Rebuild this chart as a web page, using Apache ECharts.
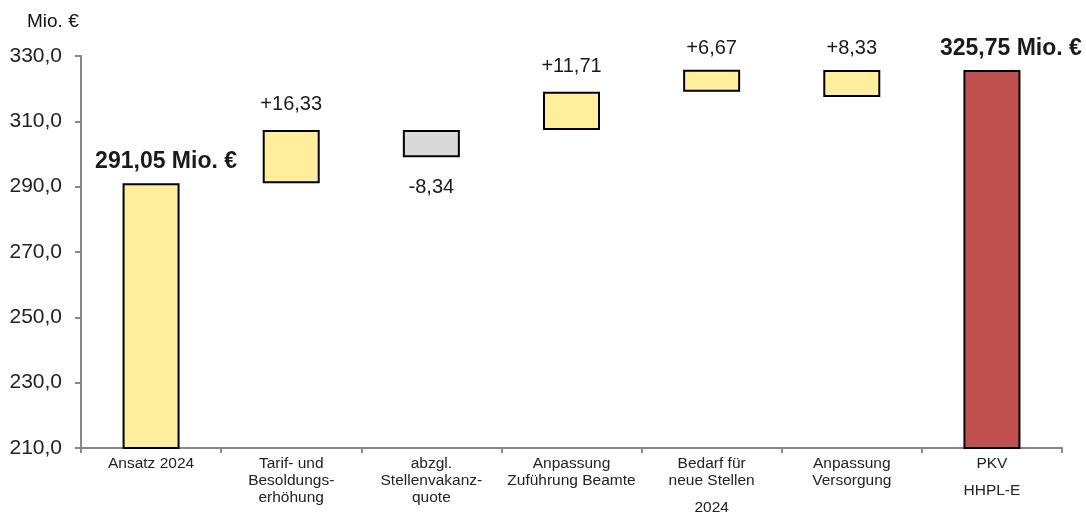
<!DOCTYPE html>
<html>
<head>
<meta charset="utf-8">
<script src="https://cdn.jsdelivr.net/npm/echarts@6/dist/echarts.min.js"></script>
<style>
  html, body { margin: 0; padding: 0; background: #fff; }
  #chart { width: 1086px; height: 517px; }
</style>
</head>
<body>
<div id="chart"></div>
<script>
// Personalkosten: Überleitung vom Ansatz 2024 zum HHPL-Entwurf (Mio. €)
const categories = [
  'Ansatz 2024',
  'Tarif- und\nBesoldungs-\nerhöhung',
  'abzgl.\nStellenvakanz-\nquote',
  'Anpassung\nZuführung Beamte',
  'Bedarf für\nneue Stellen',
  'Anpassung\nVersorgung',
  'PKV'
];
// second line set apart below a category label
const categoryNotes = ['', '', '', '', '2024', '', 'HHPL-E'];

const startTotal = 291.05;
const endTotal = 325.75;
// change steps and the level each step bar starts from
const deltas = [16.33, -8.34, 11.71, 6.67, 8.33];
const deltaStart = [291.05, 307.38, 307.38, 319.09, 317.42];

const yTicks = [210, 230, 250, 270, 290, 310, 330];

const fmt = v => v.toFixed(2).replace('.', ',');
const FONT = 'Liberation Sans, Arial, sans-serif';

// invisible base + visible part of every column
const baseData = [0];
const barData = [{ value: startTotal, kind: 'total' }];
deltas.forEach((d, i) => {
  const lo = Math.min(deltaStart[i], deltaStart[i] + d);
  baseData.push(lo);
  barData.push({ value: Math.abs(d), delta: d, kind: d < 0 ? 'neg' : 'pos' });
});
baseData.push(0);
barData.push({ value: endTotal, kind: 'total' });

const colors = { pos: '#FFEE9C', neg: '#D9D9D9', total1: '#C0504D' };

const seriesData = barData.map((d, i) => {
  let color = colors.pos;
  if (d.kind === 'neg') color = colors.neg;
  if (i === barData.length - 1) color = colors.total1;
  const item = {
    value: d.value,
    itemStyle: { color: color, borderColor: '#000', borderWidth: 2 }
  };
  if (d.kind === 'total') {
    item.label = {
      formatter: fmt(d.value) + ' Mio. €',
      fontWeight: 'bold',
      fontSize: 23,
      distance: 10,
      offset: [i === 0 ? 15 : 19, 0]
    };
  } else if (d.kind === 'neg') {
    item.label = { position: 'bottom', distance: 20, formatter: fmt(d.delta) };
  } else {
    // the two highest steps sit a little closer to their labels
    item.label = { formatter: '+' + fmt(d.delta), distance: i >= 4 ? 11 : 15 };
  }
  return item;
});

const chart = echarts.init(document.getElementById('chart'), null, { renderer: 'canvas' });

chart.setOption({
  animation: false,
  backgroundColor: '#fff',
  title: {
    text: 'Mio. €',
    left: 22,
    top: 7,
    textStyle: { fontFamily: FONT, fontSize: 19, fontWeight: 'normal', color: '#111' }
  },
  grid: { left: 81, right: 24, top: 56, bottom: 69, containLabel: false, outerBoundsMode: 'none' },
  xAxis: {
    type: 'category',
    data: categories,
    axisLine: { lineStyle: { color: '#888', width: 2 } },
    axisTick: { show: true, length: 5, lineStyle: { color: '#888', width: 2 } },
    axisLabel: {
      interval: 0,
      margin: 7,
      color: '#222',
      fontFamily: FONT,
      fontSize: 15,
      lineHeight: 17,
      formatter: (value, idx) => {
        const main = value.split('\n').map(s => '{a|' + s + '}').join('\n');
        return categoryNotes[idx] ? main + '\n{b|' + categoryNotes[idx] + '}' : main;
      },
      rich: {
        a: { fontSize: 15.5, lineHeight: 17, color: '#222', fontFamily: FONT },
        b: { fontSize: 15.5, lineHeight: 38, color: '#222', fontFamily: FONT }
      }
    }
  },
  yAxis: {
    type: 'value',
    min: 210,
    max: 330,
    splitLine: { show: false },
    axisLine: { show: true, lineStyle: { color: '#888', width: 2 } },
    axisTick: { show: true, length: 6, customValues: yTicks, lineStyle: { color: '#888', width: 2 } },
    axisLabel: {
      customValues: yTicks,
      margin: 19,
      color: '#222',
      fontFamily: FONT,
      fontSize: 21,
      formatter: v => v.toFixed(1).replace('.', ',')
    }
  },
  series: [
    {
      type: 'bar',
      stack: 'wf',
      data: baseData,
      barWidth: 57,
      itemStyle: { color: 'transparent', borderWidth: 0 },
      emphasis: { disabled: true },
      silent: true
    },
    {
      type: 'bar',
      stack: 'wf',
      data: seriesData,
      barWidth: 57,
      label: {
        show: true,
        position: 'top',
        distance: 15,
        color: '#1a1a1a',
        fontFamily: FONT,
        fontSize: 20
      }
    }
  ]
});
</script>
</body>
</html>
